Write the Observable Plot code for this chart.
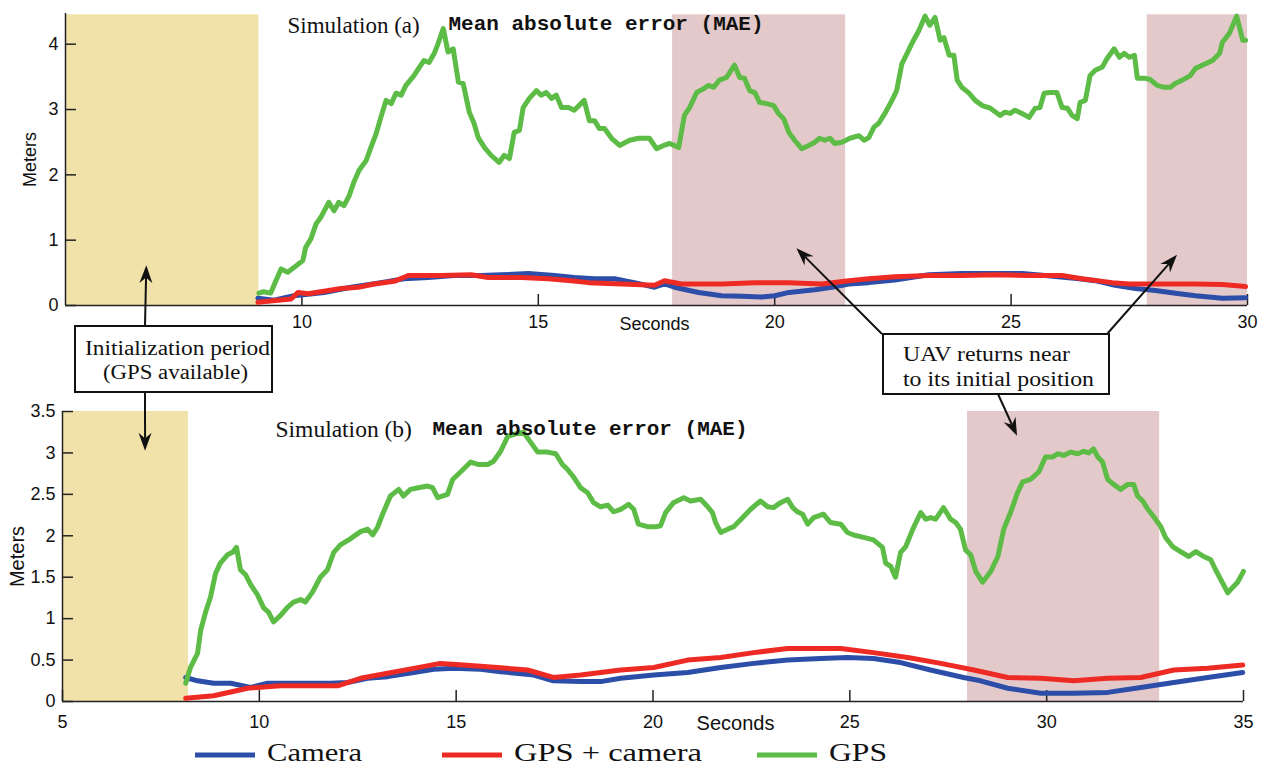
<!DOCTYPE html>
<html><head><meta charset="utf-8">
<script src="https://cdn.jsdelivr.net/npm/d3@7"></script>
<script src="https://cdn.jsdelivr.net/npm/@observablehq/plot@0.6"></script>
<style>
body{margin:0;background:#fff}
#wrap{position:relative;width:1267px;height:768px;overflow:hidden;background:#fff}
#top,#bot{position:absolute;left:0}
#top{top:0}
#bot{top:380px}
#ann{position:absolute;left:0;top:0}
</style></head><body>
<div id="wrap"><div id="top"></div><div id="bot"></div><svg id="ann" width="1267" height="768"></svg></div>
<script>
// ---------- data (seconds, meters) ----------
const seriesNames = ["Camera", "GPS + camera", "GPS"];
const topXTicks = [10, 15, 20, 25, 30];
const topYTicks = [0, 1, 2, 3, 4];
const botXTicks = [5, 10, 15, 20, 25, 30, 35];
const botYTicks = [0, 0.5, 1, 1.5, 2, 2.5, 3, 3.5];

const topInit = [[5, 9.09]];
const topReturn = [[17.84, 21.5], [27.88, 30]];
const botInit = [[5, 8.2]];
const botReturn = [[27.99, 32.87]];

const topGps = [[9.09,0.19],[9.19,0.21],[9.34,0.19],[9.45,0.38],[9.56,0.56],[9.70,0.51],[9.83,0.58],[10.02,0.69],[10.08,0.89],[10.19,1.02],[10.30,1.25],[10.40,1.35],[10.57,1.58],[10.68,1.45],[10.78,1.58],[10.89,1.53],[11.00,1.68],[11.10,1.89],[11.21,2.07],[11.36,2.22],[11.46,2.42],[11.57,2.63],[11.67,2.88],[11.78,3.14],[11.89,3.09],[11.99,3.25],[12.10,3.22],[12.20,3.37],[12.37,3.52],[12.48,3.64],[12.58,3.75],[12.69,3.72],[12.80,3.86],[12.88,4.01],[12.99,4.24],[13.09,3.88],[13.20,3.93],[13.31,3.42],[13.41,3.40],[13.54,2.96],[13.64,2.79],[13.73,2.57],[13.86,2.42],[14.00,2.30],[14.17,2.19],[14.28,2.30],[14.39,2.25],[14.49,2.65],[14.60,2.68],[14.68,3.03],[14.81,3.17],[14.96,3.29],[15.06,3.22],[15.17,3.26],[15.28,3.17],[15.38,3.22],[15.49,3.03],[15.64,3.03],[15.76,2.99],[15.97,3.14],[16.08,2.83],[16.19,2.83],[16.29,2.71],[16.40,2.71],[16.55,2.56],[16.72,2.45],[16.93,2.53],[17.12,2.56],[17.35,2.56],[17.50,2.40],[17.65,2.45],[17.78,2.48],[17.97,2.42],[18.09,2.91],[18.20,3.03],[18.35,3.26],[18.50,3.32],[18.60,3.37],[18.71,3.34],[18.83,3.45],[18.98,3.49],[19.05,3.57],[19.15,3.68],[19.26,3.49],[19.36,3.48],[19.47,3.29],[19.58,3.26],[19.68,3.11],[19.83,3.09],[19.98,3.06],[20.08,2.94],[20.19,2.86],[20.30,2.65],[20.42,2.53],[20.57,2.40],[20.72,2.45],[20.85,2.50],[20.95,2.56],[21.06,2.53],[21.17,2.56],[21.27,2.48],[21.42,2.50],[21.59,2.56],[21.78,2.60],[21.89,2.53],[21.99,2.57],[22.10,2.73],[22.20,2.79],[22.33,2.94],[22.48,3.14],[22.58,3.29],[22.69,3.70],[22.80,3.86],[22.90,4.01],[23.05,4.21],[23.18,4.43],[23.28,4.29],[23.39,4.41],[23.50,4.06],[23.58,4.10],[23.69,3.83],[23.79,3.83],[23.86,3.45],[23.96,3.34],[24.11,3.25],[24.24,3.14],[24.39,3.06],[24.56,3.02],[24.77,2.91],[24.87,2.96],[24.98,2.94],[25.08,2.99],[25.23,2.94],[25.38,2.88],[25.51,3.02],[25.61,3.03],[25.70,3.25],[25.81,3.26],[25.97,3.26],[26.08,3.03],[26.19,3.02],[26.29,2.91],[26.40,2.86],[26.46,3.11],[26.57,3.14],[26.67,3.52],[26.78,3.60],[26.93,3.65],[27.03,3.78],[27.18,3.93],[27.29,3.80],[27.39,3.86],[27.50,3.80],[27.61,3.83],[27.67,3.48],[27.82,3.48],[27.94,3.46],[28.09,3.37],[28.24,3.34],[28.37,3.34],[28.47,3.40],[28.62,3.45],[28.79,3.52],[28.90,3.63],[29.11,3.70],[29.26,3.75],[29.41,3.86],[29.47,4.03],[29.62,4.17],[29.77,4.43],[29.90,4.06],[29.96,4.06]];

const topCam = [[9.07,0.11],[9.41,0.08],[9.83,0.15],[10.47,0.20],[11.04,0.28],[11.67,0.35],[12.16,0.41],[12.67,0.43],[13.22,0.46],[13.79,0.46],[14.22,0.47],[14.79,0.49],[15.34,0.46],[15.76,0.43],[16.19,0.41],[16.61,0.41],[17.03,0.35],[17.46,0.28],[17.67,0.33],[17.88,0.28],[18.39,0.20],[18.88,0.15],[19.30,0.14],[19.72,0.13],[20.00,0.15],[20.30,0.20],[20.85,0.24],[21.21,0.28],[21.57,0.33],[21.99,0.35],[22.54,0.39],[23.26,0.47],[23.96,0.49],[24.66,0.49],[25.23,0.49],[25.72,0.46],[26.44,0.41],[26.78,0.38],[27.20,0.31],[27.63,0.26],[28.05,0.23],[28.56,0.18],[28.90,0.15],[29.47,0.11],[29.96,0.12]];

const topFused = [[9.07,0.05],[9.77,0.10],[9.92,0.20],[10.13,0.18],[10.83,0.26],[11.19,0.28],[11.53,0.33],[11.95,0.37],[12.25,0.46],[12.94,0.46],[13.58,0.47],[13.94,0.43],[14.64,0.43],[15.21,0.41],[15.70,0.38],[16.06,0.35],[16.76,0.33],[17.46,0.31],[17.67,0.38],[18.03,0.33],[18.88,0.33],[19.58,0.35],[20.30,0.35],[21.00,0.33],[21.57,0.38],[21.99,0.41],[22.54,0.44],[23.26,0.46],[23.96,0.46],[24.66,0.47],[25.38,0.46],[26.08,0.46],[26.50,0.41],[27.14,0.35],[27.50,0.33],[27.84,0.33],[28.56,0.33],[28.90,0.33],[29.47,0.32],[29.96,0.29]];

const botGps = [[8.13,0.22],[8.25,0.41],[8.43,0.58],[8.51,0.86],[8.63,1.07],[8.76,1.26],[8.89,1.55],[9.01,1.67],[9.19,1.77],[9.32,1.80],[9.42,1.86],[9.52,1.59],[9.65,1.53],[9.78,1.41],[9.95,1.29],[10.11,1.13],[10.23,1.08],[10.36,0.96],[10.54,1.04],[10.72,1.14],[10.87,1.20],[11.05,1.23],[11.17,1.20],[11.35,1.32],[11.55,1.50],[11.73,1.59],[11.89,1.80],[12.06,1.89],[12.27,1.95],[12.39,1.99],[12.57,2.05],[12.75,2.08],[12.88,2.01],[13.00,2.10],[13.13,2.26],[13.33,2.48],[13.54,2.56],[13.66,2.48],[13.84,2.56],[14.04,2.58],[14.27,2.60],[14.40,2.58],[14.53,2.46],[14.78,2.50],[14.91,2.68],[15.11,2.77],[15.37,2.89],[15.57,2.86],[15.80,2.86],[15.95,2.90],[16.13,3.02],[16.31,3.20],[16.51,3.23],[16.71,3.25],[16.89,3.13],[17.07,3.01],[17.32,3.01],[17.53,2.99],[17.70,2.86],[17.83,2.80],[17.98,2.71],[18.16,2.58],[18.34,2.52],[18.49,2.40],[18.67,2.35],[18.85,2.37],[19.00,2.29],[19.18,2.32],[19.38,2.38],[19.51,2.32],[19.63,2.14],[19.86,2.11],[20.07,2.11],[20.19,2.12],[20.32,2.28],[20.52,2.40],[20.78,2.46],[20.95,2.42],[21.21,2.44],[21.39,2.35],[21.51,2.28],[21.59,2.16],[21.72,2.04],[21.90,2.08],[22.05,2.11],[22.28,2.22],[22.48,2.32],[22.73,2.42],[22.91,2.35],[23.06,2.34],[23.24,2.40],[23.42,2.44],[23.55,2.34],[23.67,2.29],[23.80,2.26],[23.93,2.14],[24.08,2.22],[24.33,2.26],[24.51,2.16],[24.77,2.14],[24.94,2.04],[25.10,2.01],[25.35,1.98],[25.60,1.95],[25.83,1.86],[25.91,1.67],[26.04,1.63],[26.16,1.50],[26.29,1.80],[26.42,1.87],[26.60,2.08],[26.80,2.28],[26.93,2.20],[27.05,2.22],[27.18,2.20],[27.38,2.34],[27.56,2.20],[27.69,2.16],[27.81,2.08],[27.94,1.83],[28.07,1.77],[28.20,1.57],[28.37,1.44],[28.58,1.57],[28.76,1.75],[28.91,2.08],[29.09,2.29],[29.26,2.52],[29.39,2.65],[29.59,2.68],[29.80,2.77],[29.97,2.95],[30.15,2.95],[30.28,2.99],[30.43,2.97],[30.61,3.01],[30.79,2.99],[30.94,3.02],[31.07,3.00],[31.19,3.05],[31.30,2.95],[31.42,2.89],[31.55,2.68],[31.70,2.62],[31.88,2.56],[32.06,2.62],[32.21,2.62],[32.31,2.48],[32.44,2.42],[32.57,2.32],[32.72,2.23],[32.90,2.11],[33.02,1.98],[33.20,1.87],[33.40,1.81],[33.61,1.75],[33.79,1.81],[33.99,1.75],[34.17,1.71],[34.29,1.59],[34.47,1.43],[34.60,1.31],[34.73,1.38],[34.85,1.44],[35.00,1.57]];

const botCam = [[8.13,0.29],[8.43,0.25],[8.84,0.22],[9.27,0.22],[9.78,0.17],[10.21,0.22],[10.97,0.22],[11.81,0.22],[12.24,0.23],[12.75,0.28],[13.26,0.30],[13.92,0.35],[14.43,0.39],[14.93,0.40],[15.62,0.39],[16.13,0.36],[16.97,0.32],[17.47,0.25],[18.16,0.24],[18.67,0.24],[19.18,0.28],[20.02,0.32],[20.88,0.35],[21.72,0.41],[22.56,0.46],[23.42,0.50],[24.26,0.52],[24.94,0.53],[25.60,0.52],[26.29,0.47],[27.05,0.38],[27.89,0.29],[28.32,0.25],[29.01,0.16],[29.85,0.10],[30.69,0.10],[31.55,0.11],[32.39,0.17],[33.23,0.23],[34.09,0.29],[34.98,0.35]];

const botFused = [[8.13,0.04],[8.84,0.07],[9.70,0.16],[10.54,0.19],[11.38,0.19],[11.99,0.19],[12.57,0.28],[13.26,0.34],[13.92,0.40],[14.60,0.46],[15.19,0.44],[16.05,0.41],[16.81,0.38],[17.47,0.29],[18.16,0.32],[19.18,0.38],[20.02,0.41],[20.88,0.50],[21.72,0.53],[22.56,0.59],[23.42,0.64],[24.26,0.64],[24.77,0.64],[25.60,0.59],[26.47,0.53],[27.31,0.46],[28.15,0.38],[29.01,0.29],[29.85,0.28],[30.69,0.25],[31.55,0.28],[32.39,0.29],[33.23,0.38],[34.09,0.40],[34.98,0.44]];

// ---------- style ----------
const C = {cam: "#2c4ea8", fused: "#ee2a24", gps: "#5cbc46", init: "#f0e2a8", ret: "#e4c9cb", axis: "#222"};
const rows = (p) => p.map(([t, v]) => ({t, v}));
const spans = (p) => p.map(([a, b]) => ({a, b}));
const lineOpts = (color) => ({x: "t", y: "v", stroke: color, strokeWidth: 5, strokeLinejoin: "round", strokeLinecap: "round"});
const baseStyle = {background: "transparent", fontFamily: "'Liberation Sans', Arial, sans-serif", fontSize: "18px", color: "#111", overflow: "visible"};
const fmt = (d) => `${d}`;

function panel(o) {
  return Plot.plot({
    width: 1267, height: o.height,
    marginLeft: o.ml, marginRight: o.mr, marginTop: o.mt, marginBottom: o.mb,
    style: baseStyle,
    x: {domain: o.xd, ticks: o.xt, tickSize: 0, tickPadding: o.xpad, label: null, tickFormat: fmt},
    y: {domain: o.yd, ticks: o.yt, tickSize: 0, tickPadding: o.ypad, label: null, tickFormat: fmt},
    marks: [
      Plot.rect(spans(o.init), {x1: "a", x2: "b", y1: 0, y2: o.shadeTop, fill: C.init}),
      Plot.rect(spans(o.ret), {x1: "a", x2: "b", y1: 0, y2: o.shadeTop, fill: C.ret}),
      Plot.ruleY([0], {stroke: C.axis, strokeWidth: 1.5}),
      Plot.ruleX([o.xd[0]], {stroke: C.axis, strokeWidth: 1.5}),
      Plot.ruleX(o.xt, {y1: 0, y2: 0, insetBottom: 11, stroke: C.axis, strokeWidth: 1.5}),
      Plot.ruleY(o.yt, {x1: o.xd[0], x2: o.xd[0], insetRight: -11, stroke: C.axis, strokeWidth: 1.5}),
      Plot.line(rows(o.cam), lineOpts(C.cam)),
      Plot.line(rows(o.fused), lineOpts(C.fused)),
      Plot.line(rows(o.gps), lineOpts(C.gps)),
      Plot.text([o.title], {frameAnchor: "top-left", dx: o.tdx, dy: o.tdy, textAnchor: "start", lineAnchor: "top", fontFamily: "'Liberation Serif', serif", fontSize: o.tfs, fill: "#111"}),
      Plot.text(["Mean absolute error (MAE)"], {frameAnchor: "top-left", dx: o.mdx, dy: o.mdy, textAnchor: "start", lineAnchor: "top", fontFamily: "'Liberation Mono', monospace", fontWeight: "bold", fontSize: 21, fill: "#111"}),
      Plot.text(["Meters"], {frameAnchor: "left", dx: o.ydx, rotate: -90, textAnchor: "middle", lineAnchor: "middle", fontSize: o.lfs, fill: "#111"}),
      Plot.text(["Seconds"], {frameAnchor: "bottom-left", dx: o.sdx, dy: o.sdy, textAnchor: "middle", lineAnchor: "top", fontSize: o.lfs, fill: "#111"})
    ]
  });
}

const topPlot = panel({height: 340, ml: 65, mr: 20, mt: 13, mb: 35, xd: [5, 30], yd: [0, 4.47], xt: topXTicks, yt: topYTicks,
  xpad: 10, ypad: 7, init: topInit, ret: topReturn, shadeTop: 4.45, cam: topCam, fused: topFused, gps: topGps,
  title: "Simulation (a)", tdx: 222, tdy: 3, tfs: 23, mdx: 383, mdy: 2, ydx: -35, lfs: 18, sdx: 589, sdy: 12});
const botPlot = panel({height: 388, ml: 62, mr: 24, mt: 31, mb: 67, xd: [5, 35], yd: [0, 3.5], xt: botXTicks, yt: botYTicks,
  xpad: 14, ypad: 7, init: botInit, ret: botReturn, shadeTop: 3.5, cam: botCam, fused: botFused, gps: botGps,
  title: "Simulation (b)", tdx: 213, tdy: 9, tfs: 23.5, mdx: 370, mdy: 9, ydx: -45, lfs: 20, sdx: 673, sdy: 14});
document.getElementById("top").append(topPlot);
document.getElementById("bot").append(botPlot);

// ---------- annotations ----------
const BOT_OFF = 380;
const px = (plot, t, v, off) => [plot.scale("x").apply(t), plot.scale("y").apply(v) + off];
const ann = d3.select("#ann");
const serif = "'Liberation Serif', 'Times New Roman', serif";

function arrow(x1, y1, [x2, y2]) {
  const dx = x2 - x1, dy = y2 - y1, L = Math.hypot(dx, dy), ux = dx / L, uy = dy / L, nx = -uy, ny = ux;
  const hl = 18, hw = 6.5;
  const bx = x2 - ux * hl, by = y2 - uy * hl, ix = x2 - ux * hl * 0.68, iy = y2 - uy * hl * 0.68;
  ann.append("line").attr("x1", x1).attr("y1", y1).attr("x2", ix).attr("y2", iy).attr("stroke", "#111").attr("stroke-width", 2);
  ann.append("path").attr("d", `M${x2},${y2}L${bx + nx * hw},${by + ny * hw}L${ix},${iy}L${bx - nx * hw},${by - ny * hw}Z`).attr("fill", "#111");
}
function box(x, y, w, h, lines) {
  ann.append("rect").attr("x", x).attr("y", y).attr("width", w).attr("height", h).attr("fill", "#fff").attr("stroke", "#111").attr("stroke-width", 2);
  for (const l of lines) {
    ann.append("text").attr("x", l.x).attr("y", l.y).attr("font-family", serif).attr("font-size", 20).attr("fill", "#111")
      .attr("textLength", l.w).attr("lengthAdjust", "spacingAndGlyphs").text(l.s);
  }
}

arrow(145, 326, px(topPlot, 6.72, 0.61, 0));
arrow(145, 392, px(botPlot, 7.11, 3.02, BOT_OFF));
box(75, 326, 197, 66, [{x: 85, y: 355, w: 185, s: "Initialization period"}, {x: 103, y: 379, w: 145, s: "(GPS available)"}]);

arrow(882, 334, px(topPlot, 20.47, 0.87, 0));
arrow(1107, 334, px(topPlot, 28.52, 0.77, 0));
arrow(998, 394, px(botPlot, 29.26, 3.2, BOT_OFF));
box(883, 334, 226, 60, [{x: 903, y: 361, w: 167, s: "UAV returns near"}, {x: 903, y: 386, w: 191, s: "to its initial position"}]);

// ---------- legend ----------
const legend = [
  {name: seriesNames[0], color: C.cam, x: 195, w: 95},
  {name: seriesNames[1], color: C.fused, x: 442, w: 188},
  {name: seriesNames[2], color: C.gps, x: 757, w: 58}
];
for (const it of legend) {
  ann.append("line").attr("x1", it.x).attr("x2", it.x + 60).attr("y1", 755).attr("y2", 755).attr("stroke", it.color).attr("stroke-width", 5);
  ann.append("text").attr("x", it.x + 72).attr("y", 761).attr("font-family", serif).attr("font-size", 26).attr("fill", "#111")
    .attr("textLength", it.w).attr("lengthAdjust", "spacingAndGlyphs").text(it.name);
}
</script>
</body></html>
